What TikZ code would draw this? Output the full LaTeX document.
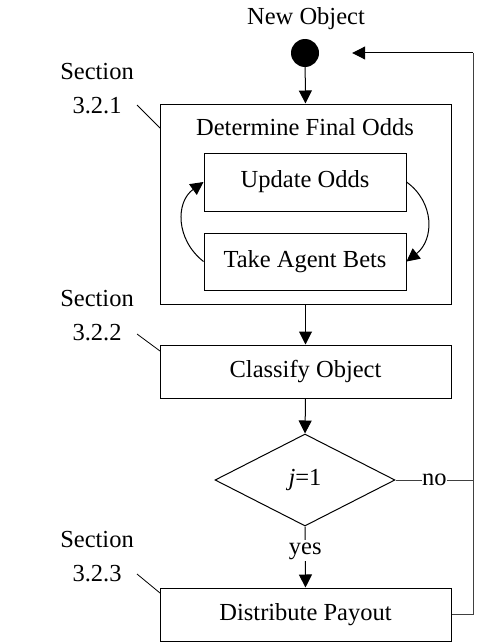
\documentclass[tikz,border=0pt]{standalone}
\usepackage{fontspec}
\setmainfont{Liberation Serif}
\usetikzlibrary{arrows.meta,shapes.geometric}
\begin{document}
\begin{tikzpicture}[x=1pt,y=-1pt,
  every node/.style={font=\fontsize{24.5}{34}\selectfont},
  box/.style={draw,line width=1pt,inner sep=0pt},
  conn/.style={line width=1pt},
  arr/.style={conn,-{Triangle[length=13pt,width=13pt]}},
  lab/.style={fill=white,inner sep=2pt},
  sec/.style={align=center,inner sep=0pt}]
\useasboundingbox (0,0) rectangle (496,642);
\node (title) at (306,19) {New Object};
\node[circle,fill=black,minimum size=28pt,inner sep=0pt] (start) at (305,53) {};
\node[box,minimum width=291pt,minimum height=200pt] (outer) at (305.5,204) {};
\node (det) at (305,127) {Determine Final Odds};
\node[box,minimum width=202pt,minimum height=58pt] (update) at (305,182) {Update Odds};
\node[box,minimum width=202pt,minimum height=57pt] (take) at (305,261.5) {Take Agent Bets};
\node[box,minimum width=291pt,minimum height=53pt] (classify) at (305.5,371.5) {Classify Object};
\node[draw,line width=1pt,diamond,minimum width=180pt,minimum height=92pt,inner sep=0pt] (dec) at (305,480) {};
\node (j) at (305,480) {\textit{j}=1};
\node[box,minimum width=291pt,minimum height=53pt] (dist) at (305.5,614.5) {Distribute Payout};
% sections
\node[sec] (s1) at (97,89) {Section\\3.2.1};
\node[sec] (s2) at (97,316) {Section\\3.2.2};
\node[sec] (s3) at (97,557) {Section\\3.2.3};
\coordinate (l1a) at (137,105); \coordinate (l1b) at (160,128);
\coordinate (l2a) at (137,334); \coordinate (l2b) at (160,351);
\coordinate (l3a) at (137,574); \coordinate (l3b) at (160,593);
\draw[conn,line width=0.8pt] (l1a) -- (l1b);
\draw[conn,line width=0.8pt] (l2a) -- (l2b);
\draw[conn,line width=0.8pt] (l3a) -- (l3b);
% flow
\draw[arr] (start) -- (outer.north);
\draw[arr] (take.west) .. controls +(-28,-22) and +(-28,20) .. (update.west);
\draw[arr] (update.east) .. controls +(28,20) and +(28,-22) .. (take.east);
\draw[arr] (outer.south) -- (classify.north);
\draw[arr] (classify.south) -- (dec.north);
\draw[arr] (dec.south) -- node[lab,pos=0.4] (yes) {yes} (dist.north);
\coordinate (rb) at (473,480);
\coordinate (rc) at (473,53);
\draw[conn,black!75] (dec.east) -- node[lab,midway,inner sep=0.5pt,text=black] (no) {no} (rb);
\draw[conn,black!75] (dist.east) -| (rc);
\draw[arr] (rc) -- ([xshift=33pt]start.east);
\end{tikzpicture}
\end{document}
